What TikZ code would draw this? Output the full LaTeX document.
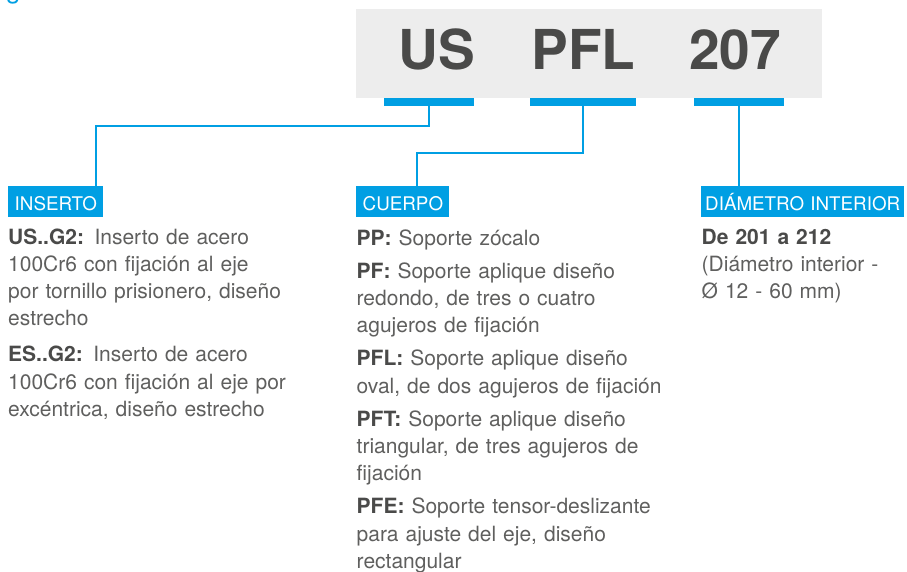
\documentclass[tikz,border=0pt]{standalone}
\usepackage{fontspec}
\setmainfont{TeX Gyre Heros}
\definecolor{cblue}{HTML}{009FE3}
\definecolor{cgray}{HTML}{EDEDED}
\definecolor{chead}{HTML}{4A4A49}
\definecolor{cbody}{HTML}{5F5F5E}
\begin{document}
\begin{tikzpicture}[x=1pt,y=-1pt,
  headtxt/.style={anchor=base,inner sep=0,text=chead,font=\fontsize{55}{55}\selectfont\bfseries},
  barbox/.style={anchor=north,fill=cblue,inner sep=0,minimum height=8,draw=none},
  labelbox/.style={anchor=north west,fill=cblue,text=white,inner xsep=6.5,inner ysep=0,
    minimum height=31,text height=17,text depth=0,align=left,
    font=\fontsize{18.8}{18.8}\selectfont},
  bodytxt/.style={anchor=base west,inner sep=0,text=cbody,align=left,
    font=\fontsize{21}{27.2}\selectfont},
  conn/.style={draw=cblue,line width=2}]
\useasboundingbox (0,0) rectangle (907,572);
% cut-off fragment at top left
\node[anchor=base west,inner sep=0,text=cblue,font=\fontsize{26}{26}\selectfont] (frag) at (6,-1) {g};
% code box
\node[fill=cgray,inner sep=0,minimum width=466,minimum height=89] (codebox) at (589,53.5) {};
\node[headtxt] (us) at (436.7,70) {US};
\node[headtxt] (pfl) at (583.5,70) {PFL};
\node[headtxt] (num) at (735,70) {207};
% bars
\node[barbox,minimum width=90] (bar1) at (429,98) {};
\node[barbox,minimum width=106] (bar2) at (583,98) {};
\node[barbox,minimum width=90] (bar3) at (739,98) {};
% labels
\node[labelbox,text width=82] (ins) at (8,186) {INSERTO};
\node[labelbox,text width=80] (cue) at (356,186) {CUERPO};
\node[labelbox,inner xsep=4,text width=195] (dia) at (701,186) {\mbox{DIÁMETRO INTERIOR}};
% connectors
\coordinate (j1) at (96,126);
\coordinate (j2) at (417,153);
\draw[conn] (bar1.south) |- (j1) -- (ins.north -| j1);
\draw[conn] (bar2.south) |- (j2) -- (cue.north -| j2);
\draw[conn] (bar3.south) -- (dia.north -| bar3.south);
% texts
\node[bodytxt,text width=330] (tins) at (8,244) {%
\textcolor{chead}{\bfseries US..G2:} Inserto de acero\\
100Cr6 con fijación al eje\\
por tornillo prisionero, diseño\\
estrecho\\[9pt]
\textcolor{chead}{\bfseries ES..G2:} Inserto de acero\\
100Cr6 con fijación al eje por\\
excéntrica, diseño estrecho};
\node[bodytxt,text width=330] (tcue) at (356.5,245) {%
\textcolor{chead}{\bfseries PP:} Soporte zócalo\\[6pt]
\textcolor{chead}{\bfseries PF:} Soporte aplique diseño\\
redondo, de tres o cuatro\\
agujeros de fijación\\[6pt]
\textcolor{chead}{\bfseries PFL:} Soporte aplique diseño\\
oval, de dos agujeros de fijación\\[6pt]
\textcolor{chead}{\bfseries PFT:} Soporte aplique diseño\\
triangular, de tres agujeros de\\
fijación\\[6pt]
\textcolor{chead}{\bfseries PFE:} Soporte tensor-deslizante\\
para ajuste del eje, diseño\\
rectangular};
\node[bodytxt,text width=200] (tdia) at (701.5,244) {%
\textcolor{chead}{\bfseries De 201 a 212}\\
(Diámetro interior -\\
Ø 12 - 60 mm)};
\end{tikzpicture}
\end{document}
